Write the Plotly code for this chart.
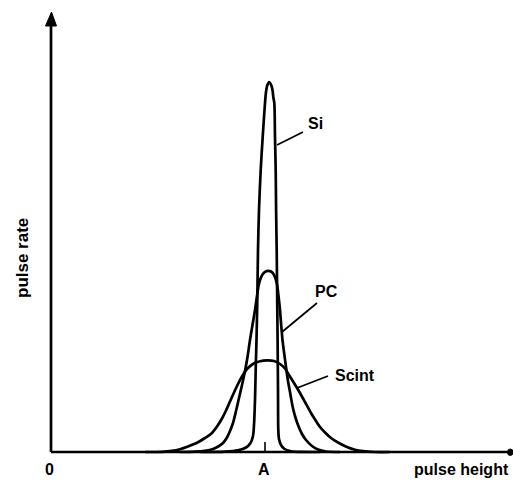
import plotly.graph_objects as go

# ---- data (pulse height, pulse rate), arbitrary units ----
si_x = [149, 174, 187, 195, 199.5, 202, 203, 204, 204.7, 205.5, 206.3, 207, 208, 209.7, 211.7, 214, 215, 216.2,
        218.2, 220.2, 221.5, 222.3, 223.3, 224, 224.7, 225.1, 225.7, 226.2, 226.6, 227, 227.3, 228, 230, 233.5,
        240, 249, 269]
si_y = [0, 0.4, 1.7, 4.5, 9, 16, 27, 52, 82, 112, 152, 202, 242, 282, 315, 349, 360, 366.5,
        370, 367, 362, 355, 349, 315, 282, 242, 202, 152, 112, 62, 22, 13, 7, 3,
        0.8, 0.1, 0]

pc_x = [129, 144, 154, 162, 168, 172, 176, 179, 182, 185, 188, 191, 194, 196.5, 199, 201.5, 204, 206, 207.5,
        209, 211.5, 214, 217,
        220, 222.5, 225, 226.3, 227.5, 229, 230.2, 231.5, 233, 235, 237, 239, 241.5, 244, 247, 251, 255, 261,
        267, 275, 289]
pc_y = [0, 0.3, 1.2, 3, 6, 9, 14.5, 21, 29, 41, 54, 67, 81, 95, 112, 127, 142, 156, 166,
        172, 177.5, 180.2, 181.2,
        180.5, 178, 172, 166, 156, 142, 127, 112, 100, 85, 71, 60, 46, 36, 27, 18, 12, 6,
        2.5, 0.5, 0]

scint_x = [94, 111, 121, 129, 137, 146, 154, 161, 166, 171, 175, 179, 183, 187, 191, 196, 202, 209, 216,
           223, 229, 234, 238, 243, 249, 254, 260, 265, 269, 274, 280, 287, 296, 304, 312, 324, 339]
scint_y = [0, 0.2, 1.1, 2.8, 5.5, 9.2, 14, 19, 25.5, 33.5, 41.5, 50.5, 59.5, 68, 75.5, 83, 88, 90.8, 91.7,
           91, 88, 83.5, 77, 69, 59, 50, 39, 31, 25, 19.5, 14, 9.5, 5, 2.2, 0.8, 0, 0]

series_names = ["Si", "PC", "Scint"]
tick_labels = ["0", "A"]
tick_values = [0, 214]
x_title = "pulse height"
y_title = "pulse rate"
x_axis_end = 459
y_axis_end = 440

FONT = dict(family="Liberation Sans, Arial, sans-serif", size=16, color="black", weight="bold")
TFONT = dict(family="Liberation Sans, Arial, sans-serif", size=17, color="black", weight="bold")
AX = dict(color="black", width=2.7)

fig = go.Figure()
for xs, ys, name in [(si_x, si_y, "Si"), (pc_x, pc_y, "PC"), (scint_x, scint_y, "Scint")]:
    fig.add_trace(go.Scatter(x=xs, y=ys, mode="lines", name=name, hoverinfo="skip",
                             line=dict(color="black", width=2.7, shape="spline", smoothing=0.8)))

annotations = []
# curve labels
for text, (lx, ly) in zip(series_names, [(264.5, 328.5), (275, 160.5), (304, 77)]):
    annotations.append(dict(x=lx, y=ly, text=text, showarrow=False, font=FONT,
                            xanchor="center", yanchor="middle"))
# tick labels
for text, tv in zip(tick_labels, tick_values):
    annotations.append(dict(x=tv - 1.5, y=-17.5, text=text, showarrow=False, font=FONT,
                            xanchor="center", yanchor="middle"))
annotations.append(dict(x=460, y=-17, text=x_title, showarrow=False, font=FONT,
                        xanchor="right", yanchor="middle"))
annotations.append(dict(x=-29, y=194, text=y_title, showarrow=False, font=TFONT, textangle=-90,
                        xanchor="center", yanchor="middle"))

shapes = [
    # axes
    dict(type="line", x0=0, y0=0, x1=x_axis_end, y1=0, line=AX),
    dict(type="line", x0=0, y0=0, x1=0, y1=y_axis_end - 8, line=AX),
    # leader lines
    dict(type="line", x0=226, y0=307, x1=252, y1=320, line=dict(color="black", width=1.8)),
    dict(type="line", x0=231, y0=120, x1=266, y1=149, line=dict(color="black", width=1.8)),
    dict(type="line", x0=246, y0=64, x1=277, y1=76, line=dict(color="black", width=1.8)),
    # tick at A
    dict(type="line", x0=tick_values[1], y0=0, x1=tick_values[1], y1=10, line=dict(color="black", width=1.6)),
    # arrowhead on the y axis
    dict(type="path", path=f"M -5.5,{y_axis_end - 14} L 5.5,{y_axis_end - 14} L 0.5,{y_axis_end} Z",
         fillcolor="black", line=dict(color="black", width=1)),
    # dot at the end of the x axis
    dict(type="circle", x0=x_axis_end - 2.5, y0=-3.5, x1=x_axis_end + 3, y1=3, fillcolor="black",
         line=dict(color="black", width=1)),
]

fig.update_layout(
    width=513, height=481,
    margin=dict(l=0, r=0, t=0, b=0),
    paper_bgcolor="white", plot_bgcolor="white",
    showlegend=False,
    annotations=annotations,
    shapes=shapes,
    xaxis=dict(range=[-51, 462], visible=False),
    yaxis=dict(range=[-29, 452], visible=False),
)

fig.write_html("out.html", config={"displayModeBar": False})
